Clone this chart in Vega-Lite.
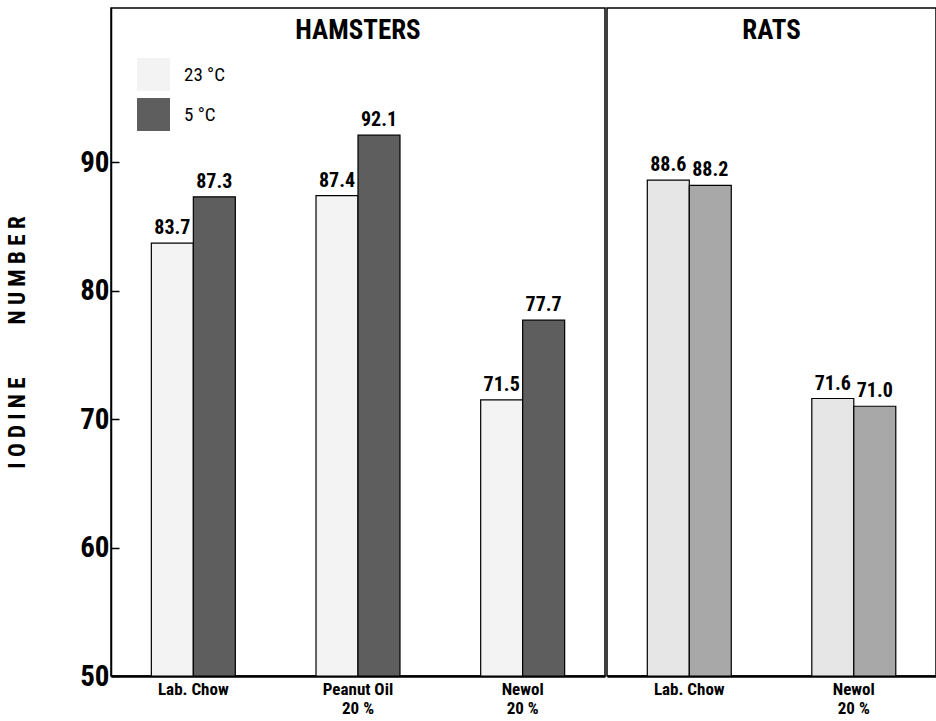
{
  "$schema": "https://vega.github.io/schema/vega-lite/v6.json",
  "background": "white",
  "padding": {"left": 5, "top": 7, "right": 2, "bottom": 0},
  "spacing": 0,
  "config": {
    "font": "Roboto Condensed, Liberation Sans Narrow, Roboto, sans-serif",
    "view": {"stroke": "black", "strokeWidth": 1.5},
    "concat": {"spacing": 0},
    "axisX": {
      "title": null, "ticks": false, "domainColor": "black", "domainWidth": 2.5,
      "labelAngle": 0, "labelFontSize": 17, "labelFontWeight": "bold", "labelColor": "black",
      "labelPadding": 5, "labelBaseline": "top", "labelLineHeight": 19,
      "labelExpr": "split(datum.label, '|')"
    },
    "axisY": {
      "grid": false, "labelFlush": false,
      "tickSize": -8, "tickWidth": 1.5, "tickColor": "black",
      "domainColor": "black", "domainWidth": 1.5,
      "labelFontSize": 29, "labelFontWeight": "bold", "labelColor": "black", "labelPadding": 10,
      "titleFontSize": 23, "titleFontWeight": "bold", "titleColor": "black", "titlePadding": 50
    },
    "legend": {
      "orient": "none", "legendX": 26, "legendY": 50, "title": null,
      "symbolType": "square", "symbolSize": 1089, "symbolStrokeWidth": 0,
      "labelFontSize": 19, "labelFontWeight": "normal", "labelColor": "black", "labelOffset": 14, "rowPadding": 7
    }
  },
  "datasets": {
    "hamsters": [
      {"diet": "Lab. Chow", "temp": "23 °C", "iodine": 83.7},
      {"diet": "Lab. Chow", "temp": "5 °C", "iodine": 87.3},
      {"diet": "Peanut  Oil|20 %", "temp": "23 °C", "iodine": 87.4},
      {"diet": "Peanut  Oil|20 %", "temp": "5 °C", "iodine": 92.1},
      {"diet": "Newol|20 %", "temp": "23 °C", "iodine": 71.5},
      {"diet": "Newol|20 %", "temp": "5 °C", "iodine": 77.7}
    ],
    "rats": [
      {"diet": "Lab. Chow", "temp": "23 °C", "iodine": 88.6},
      {"diet": "Lab. Chow", "temp": "5 °C", "iodine": 88.2},
      {"diet": "Newol|20 %", "temp": "23 °C", "iodine": 71.6},
      {"diet": "Newol|20 %", "temp": "5 °C", "iodine": 71.0}
    ],
    "titles": [
      {"group": "HAMSTERS"}
    ],
    "titles2": [
      {"group": "RATS"}
    ]
  },
  "hconcat": [
    {
      "width": 494,
      "height": 668,
      "layer": [
        {
          "data": {"name": "hamsters"},
          "mark": {"type": "bar", "stroke": "black", "strokeWidth": 1.2},
          "encoding": {
            "x": {"field": "diet", "type": "nominal", "sort": null,
                  "scale": {"paddingInner": 0.49, "paddingOuter": 0.245}},
            "xOffset": {"field": "temp", "type": "nominal", "sort": ["23 °C", "5 °C"]},
            "y": {"field": "iodine", "type": "quantitative",
                  "scale": {"domain": [50, 102], "nice": false, "zero": false},
                  "axis": {"values": [50, 60, 70, 80, 90],
                           "title": "I O D I N E\u00a0\u00a0\u00a0\u00a0\u00a0\u00a0\u00a0\u00a0\u00a0\u00a0N U M B E R"}},
            "y2": {"datum": 50},
            "color": {"field": "temp", "type": "nominal",
                      "scale": {"domain": ["23 °C", "5 °C"], "range": ["#f3f3f3", "#5e5e5e"]}}
          }
        },
        {
          "data": {"name": "hamsters"},
          "mark": {"type": "text", "baseline": "bottom", "dy": -5, "fontSize": 20, "fontWeight": "bold", "color": "black"},
          "encoding": {
            "x": {"field": "diet", "type": "nominal", "sort": null},
            "xOffset": {"field": "temp", "type": "nominal", "sort": ["23 °C", "5 °C"]},
            "y": {"field": "iodine", "type": "quantitative"},
            "text": {"field": "iodine", "type": "quantitative", "format": ".1f"}
          }
        },
        {
          "data": {"name": "titles"},
          "mark": {"type": "text", "baseline": "middle", "fontSize": 27, "fontWeight": "bold", "color": "black"},
          "encoding": {
            "y": {"datum": 100.2, "type": "quantitative"},
            "text": {"field": "group"}
          }
        }
      ]
    },
    {
      "width": 329,
      "height": 668,
      "layer": [
        {
          "data": {"name": "rats"},
          "mark": {"type": "bar", "stroke": "black", "strokeWidth": 1.2},
          "encoding": {
            "x": {"field": "diet", "type": "nominal", "sort": null,
                  "scale": {"paddingInner": 0.49, "paddingOuter": 0.245}},
            "xOffset": {"field": "temp", "type": "nominal", "sort": ["23 °C", "5 °C"]},
            "y": {"field": "iodine", "type": "quantitative",
                  "scale": {"domain": [50, 102], "nice": false, "zero": false},
                  "axis": null},
            "y2": {"datum": 50},
            "color": {"field": "temp", "type": "nominal",
                      "scale": {"domain": ["23 °C", "5 °C"], "range": ["#e6e6e6", "#a8a8a8"]},
                      "legend": null}
          }
        },
        {
          "data": {"name": "rats"},
          "mark": {"type": "text", "baseline": "bottom", "dy": -5, "fontSize": 20, "fontWeight": "bold", "color": "black"},
          "encoding": {
            "x": {"field": "diet", "type": "nominal", "sort": null},
            "xOffset": {"field": "temp", "type": "nominal", "sort": ["23 °C", "5 °C"]},
            "y": {"field": "iodine", "type": "quantitative"},
            "text": {"field": "iodine", "type": "quantitative", "format": ".1f"}
          }
        },
        {
          "data": {"name": "titles2"},
          "mark": {"type": "text", "baseline": "middle", "fontSize": 27, "fontWeight": "bold", "color": "black"},
          "encoding": {
            "y": {"datum": 100.2, "type": "quantitative"},
            "text": {"field": "group"}
          }
        }
      ]
    }
  ],
  "resolve": {
    "scale": {"color": "independent", "x": "independent", "y": "independent"},
    "legend": {"color": "independent"}
  }
}
